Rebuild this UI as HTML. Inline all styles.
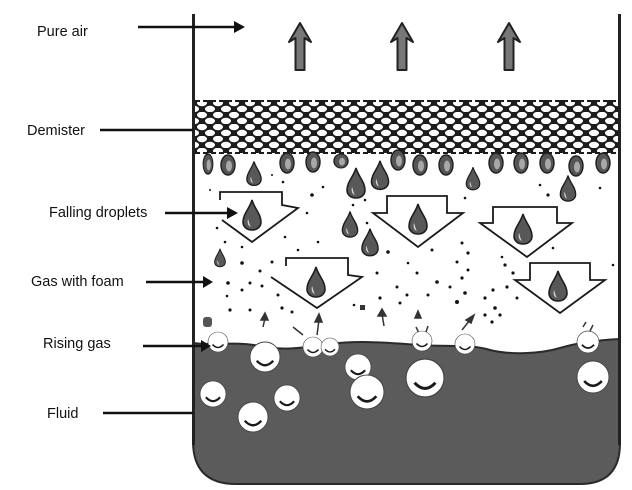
<!DOCTYPE html>
<html><head><meta charset="utf-8"><style>
html,body{margin:0;padding:0;background:#fff;}
svg{display:block;}
text{font-family:"Liberation Sans",Arial,sans-serif;font-size:14.5px;fill:#111;}
</style></head><body>
<svg width="632" height="490" viewBox="0 0 632 490" xmlns="http://www.w3.org/2000/svg">
<defs>
<pattern id="mesh" patternUnits="userSpaceOnUse" x="194" y="100" width="16" height="12">
<rect width="16" height="12" fill="#1c1c1c"/>
<ellipse cx="8" cy="3" rx="5" ry="3.2" fill="#fff"/>
<ellipse cx="0" cy="9" rx="5" ry="3.2" fill="#fff"/>
<ellipse cx="16" cy="9" rx="5" ry="3.2" fill="#fff"/>
</pattern>
<g id="drop">
<path d="M0,-17 C2,-9 9,-3 9,5 C9,10 5,13 0,13 C-5,13 -9,10 -9,5 C-9,-3 -2,-9 0,-17 Z" fill="#585858" stroke="#1e1e1e" stroke-width="1.6"/>
<path d="M-4,2 C-5,6 -4,9 -1,10 C-3,7 -3,4 -4,2 Z" fill="#d8d8d8"/>
</g>
<g id="rdrop">
<ellipse cx="0" cy="0" rx="7" ry="10" fill="#555" stroke="#1e1e1e" stroke-width="1.4"/>
<ellipse cx="1" cy="1" rx="3" ry="5.5" fill="#a8a8a8"/>
</g>
<g id="bub">
<circle r="1" fill="#fff" stroke="#444" stroke-width="0.06"/>
<path d="M-0.55,0.25 Q0,0.85 0.55,0.25" fill="none" stroke="#1a1a1a" stroke-width="0.16"/>
</g>
</defs>

<!-- fluid -->
<path d="M193,343 C215,346 235,341 260,346 C285,351 300,348 330,344 C360,340 390,343 420,345 C450,347 470,344 490,350 C510,355 540,354 560,348 C580,342 600,340 620,339 L620,443 Q620,484 580,484 L236,484 Q193,484 193,441 Z" fill="#5b5b5b" stroke="#2a2a2a" stroke-width="2"/>

<!-- walls -->
<line x1="193.5" y1="14" x2="193.5" y2="445" stroke="#222" stroke-width="3"/>
<line x1="619.5" y1="14" x2="619.5" y2="445" stroke="#222" stroke-width="3"/>

<!-- demister -->
<rect x="195" y="100" width="423" height="53" fill="url(#mesh)"/>
<line x1="195" y1="153" x2="618" y2="153" stroke="#1c1c1c" stroke-width="2" stroke-dasharray="5,3"/>
<line x1="195" y1="101" x2="618" y2="101" stroke="#1c1c1c" stroke-width="2" stroke-dasharray="5,3"/>

<!-- up arrows -->
<g fill="#777" stroke="#222" stroke-width="2" stroke-linejoin="round">
<path transform="translate(300,23)" d="M0,0 L11,19 L4.5,15 L4.5,47 L-4.5,47 L-4.5,15 L-11,19 Z"/>
<path transform="translate(402,23)" d="M0,0 L11,19 L4.5,15 L4.5,47 L-4.5,47 L-4.5,15 L-11,19 Z"/>
<path transform="translate(509,23)" d="M0,0 L11,19 L4.5,15 L4.5,47 L-4.5,47 L-4.5,15 L-11,19 Z"/>
</g>

<!-- hanging droplets -->
<use href="#rdrop" transform="translate(208,164) scale(0.7,1)"/>
<use href="#rdrop" transform="translate(228,165)"/>
<use href="#rdrop" transform="translate(287,163)"/>
<use href="#rdrop" transform="translate(313,162)"/>
<use href="#rdrop" transform="translate(341,161) scale(1,0.7)"/>
<use href="#rdrop" transform="translate(398,160)"/>
<use href="#rdrop" transform="translate(420,165)"/>
<use href="#rdrop" transform="translate(446,165)"/>
<use href="#rdrop" transform="translate(496,163)"/>
<use href="#rdrop" transform="translate(521,163)"/>
<use href="#rdrop" transform="translate(547,163)"/>
<use href="#rdrop" transform="translate(576,166)"/>
<use href="#rdrop" transform="translate(603,163)"/>

<!-- loose droplets -->
<use href="#drop" transform="translate(254,175) scale(0.8)"/>
<use href="#drop" transform="translate(356,185) scale(1)"/>
<use href="#drop" transform="translate(380,177) scale(0.95)"/>
<use href="#drop" transform="translate(473,180) scale(0.75)"/>
<use href="#drop" transform="translate(568,190) scale(0.85)"/>
<use href="#drop" transform="translate(350,226) scale(0.85)"/>
<use href="#drop" transform="translate(370,244) scale(0.9)"/>
<use href="#drop" transform="translate(220,259) scale(0.6)"/>

<!-- hollow block arrows -->
<g fill="none" stroke="#1a1a1a" stroke-width="1.8" stroke-linejoin="miter">
<polyline points="220,200 220,192 282,192 282,205 298,208 252,242 222,220"/>
<polyline points="286,266 286,258 348,258 348,275 362,277 317,308 271,277"/>
<polygon points="387,196 447,196 447,213 463,213 418,247 373,213 387,213"/>
<polygon points="493,207 557,207 557,223 572,223 527,257 480,223 493,223"/>
<polygon points="530,263 590,263 590,280 605,280 560,313 515,280 530,280"/>
</g>
<use href="#drop" transform="translate(252,217)"/>
<use href="#drop" transform="translate(316,284)"/>
<use href="#drop" transform="translate(418,221)"/>
<use href="#drop" transform="translate(523,231)"/>
<use href="#drop" transform="translate(558,288)"/>

<!-- dots -->
<g fill="#111">
<circle cx="312" cy="195" r="1.8"/><circle cx="323" cy="187" r="1.3"/><circle cx="307" cy="213" r="1.3"/>
<circle cx="285" cy="237" r="1.3"/><circle cx="318" cy="242" r="1.3"/><circle cx="298" cy="250" r="1.3"/>
<circle cx="242" cy="263" r="1.8"/><circle cx="260" cy="271" r="1.5"/><circle cx="272" cy="262" r="1.5"/>
<circle cx="228" cy="283" r="1.8"/><circle cx="242" cy="290" r="1.5"/><circle cx="250" cy="283" r="1.5"/>
<circle cx="262" cy="286" r="1.5"/><circle cx="278" cy="295" r="1.5"/><circle cx="230" cy="310" r="1.6"/>
<circle cx="250" cy="310" r="1.5"/><circle cx="282" cy="308" r="1.6"/><circle cx="292" cy="312" r="1.5"/>
<circle cx="217" cy="228" r="1.3"/><circle cx="225" cy="242" r="1.3"/><circle cx="242" cy="247" r="1.3"/>
<circle cx="353" cy="205" r="1.3"/><circle cx="367" cy="223" r="1.3"/><circle cx="388" cy="252" r="1.8"/>
<circle cx="377" cy="273" r="1.5"/><circle cx="397" cy="287" r="1.5"/><circle cx="380" cy="298" r="1.6"/>
<circle cx="400" cy="303" r="1.5"/><circle cx="407" cy="295" r="1.5"/><circle cx="417" cy="273" r="1.5"/>
<circle cx="428" cy="295" r="1.5"/><circle cx="437" cy="282" r="1.8"/><circle cx="450" cy="287" r="1.5"/>
<circle cx="457" cy="302" r="2"/><circle cx="465" cy="293" r="1.8"/><circle cx="462" cy="278" r="1.6"/>
<circle cx="468" cy="270" r="1.5"/><circle cx="457" cy="262" r="1.5"/><circle cx="468" cy="253" r="1.6"/>
<circle cx="462" cy="243" r="1.5"/><circle cx="432" cy="250" r="1.5"/><circle cx="408" cy="263" r="1.3"/>
<circle cx="465" cy="198" r="1.3"/><circle cx="485" cy="298" r="1.6"/><circle cx="493" cy="290" r="1.6"/>
<circle cx="495" cy="308" r="1.8"/><circle cx="500" cy="315" r="1.6"/><circle cx="492" cy="322" r="1.6"/>
<circle cx="485" cy="315" r="1.6"/><circle cx="505" cy="265" r="1.6"/><circle cx="502" cy="257" r="1.3"/>
<circle cx="513" cy="273" r="1.6"/><circle cx="507" cy="287" r="1.6"/><circle cx="517" cy="298" r="1.5"/>
<circle cx="553" cy="248" r="1.3"/><circle cx="548" cy="195" r="1.6"/><circle cx="540" cy="185" r="1.3"/>
<circle cx="600" cy="188" r="1.3"/><circle cx="613" cy="265" r="1.3"/><circle cx="365" cy="200" r="1.3"/>
<circle cx="283" cy="182" r="1.3"/><circle cx="272" cy="175" r="1"/><circle cx="227" cy="296" r="1.3"/>
<circle cx="354" cy="305" r="1.3"/><circle cx="210" cy="190" r="1"/>
</g>
<rect x="203" y="317" width="9" height="10" rx="3" fill="#555"/>
<rect x="360" y="305" width="5" height="5" fill="#333"/>

<!-- small rising arrows -->
<g stroke="#333" stroke-width="1.5" fill="#333">
<line x1="263" y1="327" x2="265" y2="318"/><polygon points="261,320 265,313 268,320"/>
<line x1="317" y1="335" x2="319" y2="320"/><polygon points="315,322 319,314 322,322"/>
<line x1="293" y1="327" x2="303" y2="335" fill="none"/>
<line x1="384" y1="326" x2="382" y2="314"/><polygon points="378,316 382,309 386,316"/>
<polygon points="415,318 418,311 421,318"/>
<line x1="462" y1="330" x2="470" y2="320"/><polygon points="466,320 474,315 471,323"/>
<line x1="420" y1="335" x2="416" y2="327" fill="none"/><line x1="425" y1="335" x2="428" y2="326" fill="none"/>
<line x1="583" y1="327" x2="586" y2="322" fill="none"/><line x1="590" y1="331" x2="593" y2="325" fill="none"/>
</g>

<!-- surface bubbles -->
<use href="#bub" transform="translate(218,342) scale(10)"/>
<use href="#bub" transform="translate(313,347) scale(10)"/>
<use href="#bub" transform="translate(330,347) scale(9)"/>
<use href="#bub" transform="translate(422,341) scale(10)"/>
<use href="#bub" transform="translate(465,344) scale(10)"/>
<use href="#bub" transform="translate(588,342) scale(11)"/>

<!-- fluid bubbles -->
<use href="#bub" transform="translate(265,357) scale(15)"/>
<use href="#bub" transform="translate(213,394) scale(13)"/>
<use href="#bub" transform="translate(253,417) scale(15)"/>
<use href="#bub" transform="translate(287,398) scale(13)"/>
<use href="#bub" transform="translate(358,367) scale(13)"/>
<use href="#bub" transform="translate(367,392) scale(17)"/>
<use href="#bub" transform="translate(425,378) scale(19)"/>
<use href="#bub" transform="translate(593,377) scale(16)"/>

<!-- labels -->
<text x="37" y="36">Pure air</text>
<text x="27" y="135">Demister</text>
<text x="49" y="217">Falling droplets</text>
<text x="31" y="286">Gas with foam</text>
<text x="43" y="348">Rising gas</text>
<text x="47" y="418">Fluid</text>

<g stroke="#111" stroke-width="2.6">
<line x1="138" y1="27" x2="235" y2="27"/>
<line x1="100" y1="130" x2="193" y2="130"/>
<line x1="165" y1="213" x2="228" y2="213"/>
<line x1="146" y1="282" x2="204" y2="282"/>
<line x1="143" y1="346" x2="202" y2="346"/>
<line x1="103" y1="413" x2="193" y2="413"/>
</g>
<g fill="#111">
<polygon points="234,21 245,27 234,33"/>
<polygon points="227,207 238,213 227,219"/>
<polygon points="203,276 213,282 203,288"/>
<polygon points="201,340 211,346 201,352"/>
</g>
</svg>
</body></html>
